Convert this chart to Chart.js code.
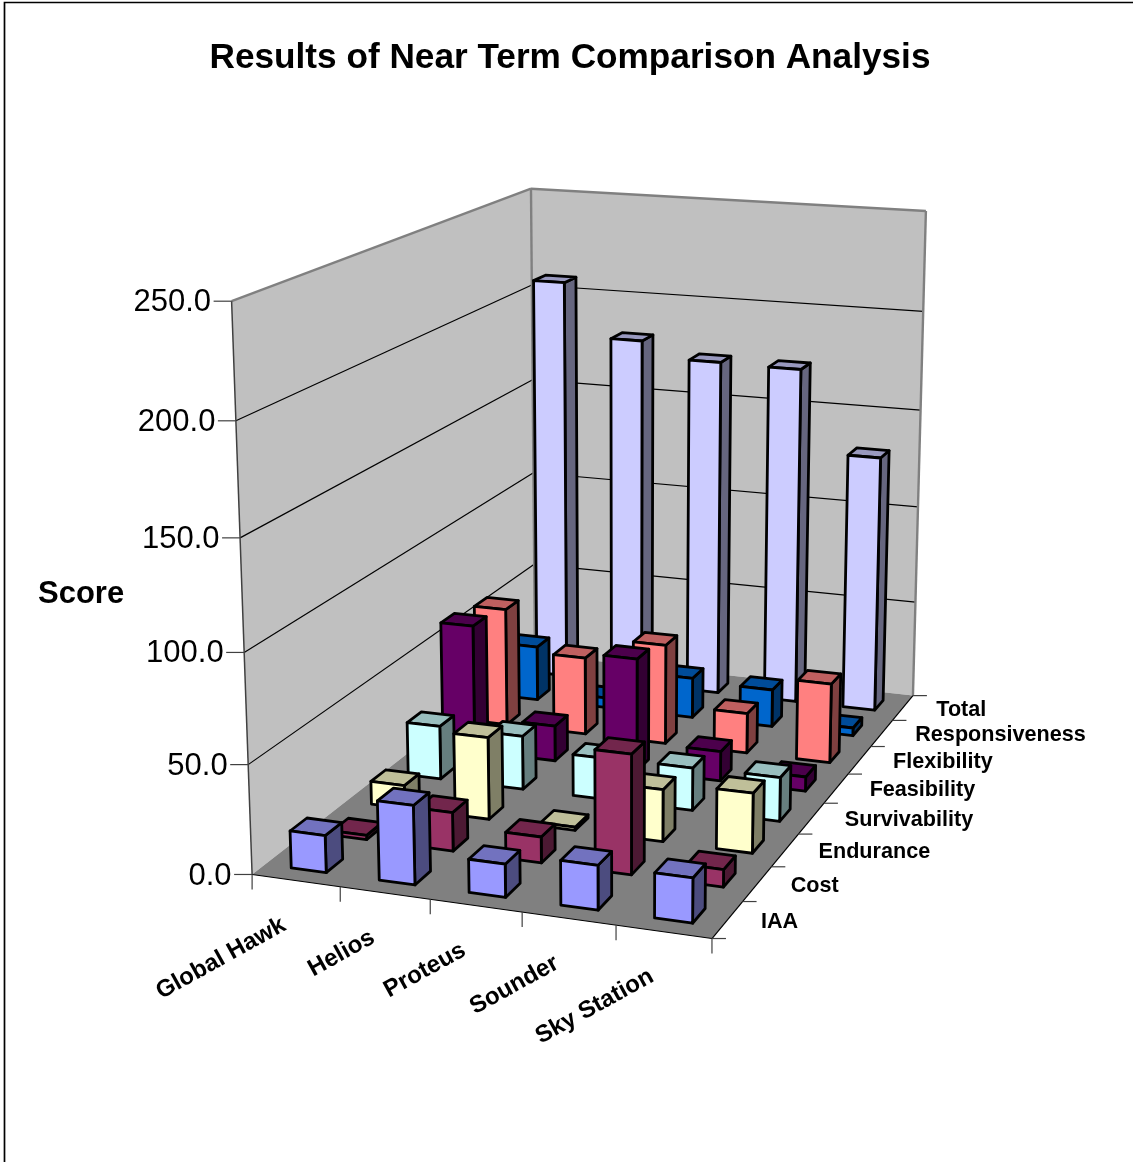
<!DOCTYPE html>
<html><head><meta charset="utf-8">
<style>html,body{margin:0;padding:0;background:#fff}#wrap{position:absolute;left:0;top:0;width:1133px;height:1162px}canvas{display:block}</style>
<script src="https://cdn.jsdelivr.net/npm/chart.js@4"></script>
</head><body><div id="wrap"><canvas id="c" width="1133" height="1162"></canvas></div>
<script>
const categories = ["Global Hawk","Helios","Proteus","Sounder","Sky Station"];
const seriesNames = ["IAA","Cost","Endurance","Survivability","Feasibility","Flexibility","Responsiveness","Total"];
const iaa            = [17,36,15,20,20];
const cost           = [2,18,12,55,8];
const endurance      = [11,39,1.5,24.5,28];
const survivability  = [26,26,20,20.5,21];
const feasibility    = [63,17.5,55.5,14.5,7];
const flexibility    = [59.5,39,50,20,39.5];
const responsiveness = [28,5,20.5,19,4];
const total          = [208,181,173,172.5,131];
const seriesValues = [iaa,cost,endurance,survivability,feasibility,flexibility,responsiveness,total];
const seriesColors = ["#9999FF","#993366","#FFFFCC","#CCFFFF","#660066","#FF8080","#0066CC","#CCCCFF"];
const valueTicks = [0,50,100,150,200,250];

// Camera calibration: box corners of the plot cube -> page position
const cameraAnchors = [
 [0,0,0,252,873],[1,0,0,712,940],[1,0,1,913,693],[0,0,1,535,656],
 [0,1,0,232,301],[0,1,1,531,188],[1,1,1,926,211],
 [0,.2,0,248,764],[0,.4,0,244,653],[0,.6,0,240,538],[0,.8,0,236,421],
 [1,.2,1,916,603],[1,.4,1,918,507],[1,.6,1,920,410],[1,.8,1,923,312]];
function solveCamera(a){
  const N=[...Array(11)].map(()=>Array(12).fill(0));
  const add=r=>{for(let i=0;i<11;i++){for(let j=0;j<11;j++)N[i][j]+=r[i]*r[j];N[i][11]+=r[i]*r[11];}};
  a.forEach(([u,v,w,x,y])=>{
    add([u,v,w,1,0,0,0,0,-x*u,-x*v,-x*w,x]);
    add([0,0,0,0,u,v,w,1,-y*u,-y*v,-y*w,y]);
  });
  for(let c=0;c<11;c++){
    let p=c;for(let r=c+1;r<11;r++)if(Math.abs(N[r][c])>Math.abs(N[p][c]))p=r;
    [N[c],N[p]]=[N[p],N[c]];
    for(let r=0;r<11;r++)if(r!==c){const f=N[r][c]/N[c][c];for(let k=c;k<12;k++)N[r][k]-=f*N[c][k];}
  }
  return N.map((r,i)=>r[11]/r[i]);
}
const M=solveCamera(cameraAnchors);
function project(u,v,w){
  const d=M[8]*u+M[9]*v+M[10]*w+1;
  return [(M[0]*u+M[1]*v+M[2]*w+M[3])/d,(M[4]*u+M[5]*v+M[6]*w+M[7])/d];
}
const BAR_W=0.4, BAR_D=0.4;
const dec=(s,val)=>(s.getPixelForValue(val)-s.left)/(s.right-s.left);
const decV=(s,val)=>(s.bottom-s.getPixelForValue(val))/(s.bottom-s.top);
const shade=(hex,f)=>{const n=parseInt(hex.slice(1),16);return `rgb(${((n>>16)&255)*f|0},${((n>>8)&255)*f|0},${(n&255)*f|0})`;};
function poly(ctx,pts,fill,stroke,lw){
  ctx.beginPath();pts.forEach((p,i)=>i?ctx.lineTo(p[0],p[1]):ctx.moveTo(p[0],p[1]));ctx.closePath();
  if(fill){ctx.fillStyle=fill;ctx.fill();}
  if(stroke){ctx.strokeStyle=stroke;ctx.lineWidth=lw;ctx.stroke();}
}
function seg(ctx,a,b,c,lw){ctx.beginPath();ctx.moveTo(a[0],a[1]);ctx.lineTo(b[0],b[1]);ctx.strokeStyle=c;ctx.lineWidth=lw;ctx.stroke();}

const box3d={
  id:'box3d',
  barGeom(chart,di,i){
    const {x,y,z}=chart.scales;
    const val=chart.data.datasets[di].data[i];
    const u0=dec(x,i-BAR_W/2),u1=dec(x,i+BAR_W/2),w0=dec(z,di-BAR_D/2),w1=dec(z,di+BAR_D/2);
    const v=decV(y,val);
    return {fbl:project(u0,0,w0),fbr:project(u1,0,w0),ftl:project(u0,v,w0),ftr:project(u1,v,w0),
            bbr:project(u1,0,w1),btl:project(u0,v,w1),btr:project(u1,v,w1)};
  },
  afterDatasetsUpdate(chart){
    chart.data.datasets.forEach((ds,di)=>{
      chart.getDatasetMeta(di).data.forEach((el,i)=>{
        const g=this.barGeom(chart,di,i);
        el.x=(g.fbl[0]+g.fbr[0])/2;el.width=g.fbr[0]-g.fbl[0];el.y=(g.ftl[1]+g.ftr[1])/2;el.base=(g.fbl[1]+g.fbr[1])/2;
      });
    });
  },
  beforeDatasetsDraw(chart){
    const ctx=chart.ctx,{x,y,z}=chart.scales;
    ctx.save();ctx.lineJoin='round';
    poly(ctx,[project(0,0,0),project(0,1,0),project(0,1,1),project(0,0,1)],'#C0C0C0');
    poly(ctx,[project(0,0,1),project(0,1,1),project(1,1,1),project(1,0,1)],'#C0C0C0');
    poly(ctx,[project(0,0,0),project(1,0,0),project(1,0,1),project(0,0,1)],'#808080');
    valueTicks.forEach(t=>{
      if(t===0||t===250)return;
      const v=decV(y,t);
      seg(ctx,project(0,v,0),project(0,v,1),'#000',1.2);
      seg(ctx,project(0,v,1),project(1,v,1),'#000',1.2);
    });
    seg(ctx,project(0,1,0),project(0,1,1),'#808080',2.4);
    seg(ctx,project(0,1,1),project(1,1,1),'#808080',2.4);
    seg(ctx,project(1,1,1),project(1,0,1),'#808080',2.4);
    seg(ctx,project(0,1,1),project(0,0,1),'#808080',2.4);
    seg(ctx,project(0,0,0),project(0,1,0),'#404040',1.5);
    seg(ctx,project(0,0,0),project(1,0,0),'#000',1.2);
    seg(ctx,project(1,0,0),project(1,0,1),'#000',1.2);
    ctx.fillStyle='#000';ctx.textBaseline='middle';
    valueTicks.forEach(t=>{
      const p=project(0,decV(y,t),0);
      seg(ctx,[p[0]-18,p[1]],p,'#404040',1.2);
      ctx.font='31px "Liberation Sans"';ctx.textAlign='right';ctx.fillStyle='#000';
      ctx.fillText(t.toFixed(1),p[0]-20.5,p[1]+1.5);
    });
    for(let i=0;i<=categories.length;i++){
      const p=project(dec(x,i-.5),0,0);seg(ctx,p,[p[0],p[1]+15],'#404040',1.2);
    }
    seg(ctx,project(1,0,0),[project(1,0,0)[0]+14,project(1,0,0)[1]],'#404040',1.2);
    categories.forEach((c,i)=>{
      const p=project(dec(x,i),0,0);
      ctx.save();ctx.translate(p[0]-12,p[1]+43);ctx.rotate(-29*Math.PI/180);
      ctx.font='bold 24px "Liberation Sans"';ctx.textAlign='right';ctx.fillStyle='#000';
      ctx.fillText(c,0,0);ctx.restore();
    });
    for(let j=1;j<=seriesNames.length;j++){
      const p=project(1,0,dec(z,j-.5));seg(ctx,p,[p[0]+14,p[1]],'#404040',1.2);
    }
    seriesNames.forEach((s,j)=>{
      const p=project(1,0,dec(z,j));
      ctx.font='bold 21.6px "Liberation Sans"';ctx.textAlign='left';ctx.fillStyle='#000';
      ctx.fillText(s,p[0]+33.5,p[1]+2);
    });
    ctx.font='bold 31px "Liberation Sans"';ctx.textAlign='left';ctx.fillStyle='#000';ctx.fillText('Score',38,594);
    ctx.restore();
  },
  beforeDatasetDraw(chart,args){
    const di=args.index,ctx=chart.ctx,col=seriesColors[di];
    ctx.save();ctx.lineJoin='round';
    chart.data.datasets[di].data.forEach((val,i)=>{
      const g=this.barGeom(chart,di,i);
      poly(ctx,[g.fbr,g.bbr,g.btr,g.ftr],shade(col,.5),'#000',2.8);
      poly(ctx,[g.ftl,g.ftr,g.btr,g.btl],shade(col,.75),'#000',2.8);
      poly(ctx,[g.fbl,g.fbr,g.ftr,g.ftl],col,'#000',2.8);
    });
    ctx.restore();
    return false;
  },
  afterDraw(chart){
    const ctx=chart.ctx;ctx.save();ctx.strokeStyle='#000';ctx.lineWidth=1.7;
    ctx.beginPath();ctx.moveTo(4.5,1162);ctx.lineTo(4.5,2.5);ctx.lineTo(1133,2.5);ctx.stroke();ctx.restore();
  }
};

new Chart(document.getElementById('c'),{
  type:'bar',
  data:{labels:categories,datasets:seriesNames.map((n,j)=>({label:n,data:seriesValues[j],backgroundColor:seriesColors[j],borderColor:'#000',borderWidth:2}))},
  options:{
    responsive:false,animation:false,
    layout:{padding:{left:7}},
    plugins:{legend:{display:false},tooltip:{enabled:false},
      title:{display:true,text:'Results of Near Term Comparison Analysis',color:'#000',font:{family:'"Liberation Sans"',size:35.2,weight:'bold'},padding:{top:37,bottom:20}}},
    scales:{
      x:{type:'category',display:false,offset:true,grid:{display:false}},
      y:{type:'linear',min:0,max:250,display:false,grid:{display:false},ticks:{stepSize:50}},
      z:{type:'category',axis:'x',labels:seriesNames,offset:true,display:false,grid:{display:false}}
    }
  },
  plugins:[box3d]
});
</script></body></html>
